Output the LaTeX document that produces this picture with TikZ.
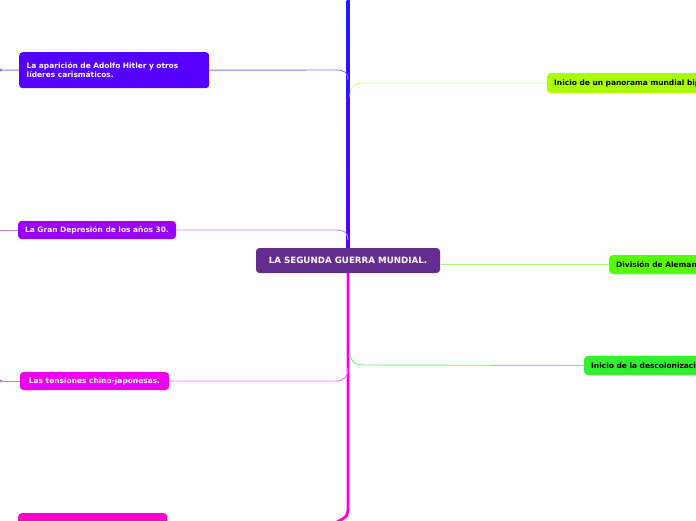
\documentclass[tikz,border=0pt]{standalone}
\usepackage{fontspec}
\setmainfont{DejaVu Sans}
\definecolor{cCenter}{HTML}{662D91}
\definecolor{cL1}{HTML}{5500FF}
\definecolor{cL2}{HTML}{9900FF}
\definecolor{cL3}{HTML}{EE00EE}
\definecolor{cL4}{HTML}{FF00CC}
\definecolor{cR1}{HTML}{AAFF00}
\definecolor{cR2}{HTML}{55FF00}
\definecolor{cR3}{HTML}{33EE33}
\definecolor{kL1}{HTML}{9A70FF}
\definecolor{kL2}{HTML}{C584FF}
\definecolor{kL3}{HTML}{FF66FF}
\definecolor{kR1}{HTML}{D2FF80}
\definecolor{kR2}{HTML}{A0FF78}
\definecolor{kR3}{HTML}{70F070}
\definecolor{trunkTop}{HTML}{1A1AFF}
\definecolor{trunkMid}{HTML}{5A00FF}
\definecolor{trunkLow}{HTML}{FF00DD}
\begin{document}
\begin{tikzpicture}[x=1pt,y=-1pt,
  box/.style={rounded corners=3.5pt, inner sep=0pt, text=white,
    font=\bfseries\fontsize{7.45}{9.5}\selectfont},
  rbox/.style={box, text=black, anchor=west, inner xsep=7pt, minimum height=20pt},
  link/.style={line width=0.9pt}]
\useasboundingbox (0,0) rectangle (696,520);
\clip (0,0) rectangle (696,520);
\fill[white] (0,0) rectangle (696,520);

% trunk
\coordinate (ttop) at (348,0);
\coordinate (tmid) at (348,250);
\coordinate (tlow) at (348,272);
\coordinate (tbot) at (348,505);
\shade[top color=trunkTop, bottom color=trunkMid] (346.5,0) rectangle (349.8,250);
\draw[trunkLow, line width=2.8pt] (tlow) -- (tbot) .. controls (348,516) .. (337,522);

% central node
\node[box, fill=cCenter, minimum width=184pt, minimum height=25pt,
  font=\bfseries\fontsize{8.7}{10}\selectfont] (c) at (348,260.5) {LA SEGUNDA GUERRA MUNDIAL.};

% left nodes
\node[box, fill=cL1, anchor=north west, text width=175pt, inner xsep=7.5pt,
  minimum height=36pt, align=left] (l1) at (19,52)
  {La aparición de Adolfo Hitler y otros\\ líderes carismáticos.};
\node[box, fill=cL2, minimum width=158pt, minimum height=18pt] (l2) at (97,230)
  {La Gran Depresión de los años 30.};
\node[box, fill=cL3, minimum width=149pt, minimum height=18pt] (l3) at (94.5,381)
  {Las tensiones chino-japonesas.};
\node[box, fill=cL4, anchor=north west, minimum width=149pt, minimum height=18pt] (l4) at (18,513) {};

% right nodes
\node[rbox, fill=cR1] (r1) at (547,83) {Inicio de un panorama mundial bipolar.};
\node[rbox, fill=cR2, minimum height=19pt] (r2) at (609,264.5) {División de Alemania.};
\node[rbox, fill=cR3, minimum height=19pt] (r3) at (584,365.5) {Inicio de la descolonización.};

% left connectors
\coordinate (j1) at (348,80);
\coordinate (j2) at (348,240);
\coordinate (j3) at (348,368);
\draw[link, kL1] (l1.east) -- (336,70) .. controls (345,70) and (348,73) .. (j1);
\draw[link, kL2] (l2.east) -- (336,230) .. controls (345,230) and (348,233) .. (j2);
\draw[link, kL3] (l3.east) -- (335,381) .. controls (344,381) and (348,377) .. (j3);

% left tails
\coordinate (e1) at (0,70);
\coordinate (e2) at (0,230);
\coordinate (e3) at (0,381);
\draw[link, kL1] (l1.west) -- (e1);
\fill[kL1] (1,70) circle (1.6pt);
\draw[link, kL2] (l2.west) -- (e2);
\draw[link, kL3] (l3.west) -- (e3);
\fill[kL3] (1,381) circle (1.6pt);

% right connectors
\coordinate (k1) at (350,97);
\coordinate (k3) at (350,352);
\draw[link, kR1] (k1) .. controls (350,87) and (354,83) .. (364,83) -- (r1.west);
\draw[link, kR2] (c.east |- r2.west) -- (r2.west);
\draw[link, kR3] (k3) .. controls (350,361) and (354,365) .. (364,365) -- (r3.west);
\end{tikzpicture}
\end{document}
